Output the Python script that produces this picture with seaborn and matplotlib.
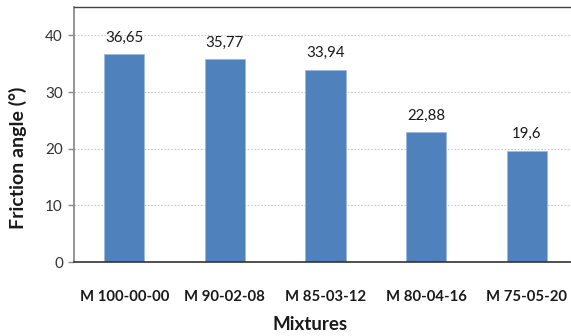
import matplotlib
matplotlib.use("Agg")
import matplotlib.pyplot as plt
import seaborn as sns
import pandas as pd

mixtures = ["M 100-00-00", "M 90-02-08", "M 85-03-12", "M 80-04-16", "M 75-05-20"]
friction_angle = [36.65, 35.77, 33.94, 22.88, 19.6]
value_labels = ["36,65", "35,77", "33,94", "22,88", "19,6"]

sns.set_theme(style="white")
plt.rcParams["font.family"] = ["Lato", "DejaVu Sans"]

df = pd.DataFrame({"Mixtures": mixtures, "Friction angle": friction_angle})

fig = plt.figure(figsize=(5.71, 3.36), dpi=100)
ax = fig.add_axes([74 / 571, (336 - 262) / 336, (577 - 74) / 571, 255 / 336])

sns.barplot(data=df, x="Mixtures", y="Friction angle", color="#4F81BD",
            saturation=1, width=0.4, ax=ax, edgecolor="#9DB9DD", linewidth=0.6)

ax.set_ylim(0, 45)
ax.set_xlim(-0.5, 4.5)
ax.set_yticks([0, 10, 20, 30, 40])
ax.yaxis.grid(True, linestyle=(0, (1.5, 1.5)), color="#C8C8C8", linewidth=0.8)
ax.set_axisbelow(True)

for i, (v, lab) in enumerate(zip(friction_angle, value_labels)):
    ax.annotate(lab, (i, v), xytext=(0, 7), textcoords="offset points",
                ha="center", va="bottom", fontsize=10.8, color="#1a1a1a")

ax.spines["right"].set_visible(False)
ax.spines["left"].set_color("#8C8C8C")
ax.spines["left"].set_linewidth(1.3)
ax.spines["bottom"].set_color("#333333")
ax.spines["bottom"].set_linewidth(1.2)
ax.spines["top"].set_color("#444444")
ax.spines["top"].set_linewidth(1.0)

ax.tick_params(axis="y", left=True, length=4, width=1, color="#8C8C8C",
               labelsize=11, labelcolor="#333333", pad=4)
ax.tick_params(axis="x", bottom=False, labelsize=10.7, pad=14)
for t in ax.get_xticklabels():
    t.set_fontweight("bold")
    t.set_color("#1a1a1a")

ax.set_ylabel("Friction angle (°)", fontsize=14, fontweight="bold", color="#1a1a1a")
ax.yaxis.label.set_va("center")
ax.yaxis.set_label_coords((18 - 74) / (577 - 74), (336 - 158 - 74) / 255 * 0 + (262 - 158) / 255)

ax.set_xlabel("Mixtures", fontsize=13.5, fontweight="bold", color="#1a1a1a")
ax.xaxis.label.set_va("center")
ax.xaxis.set_label_coords((310 - 74) / (577 - 74), -(325 - 262) / 255)

fig.savefig("out.png", dpi=100)
